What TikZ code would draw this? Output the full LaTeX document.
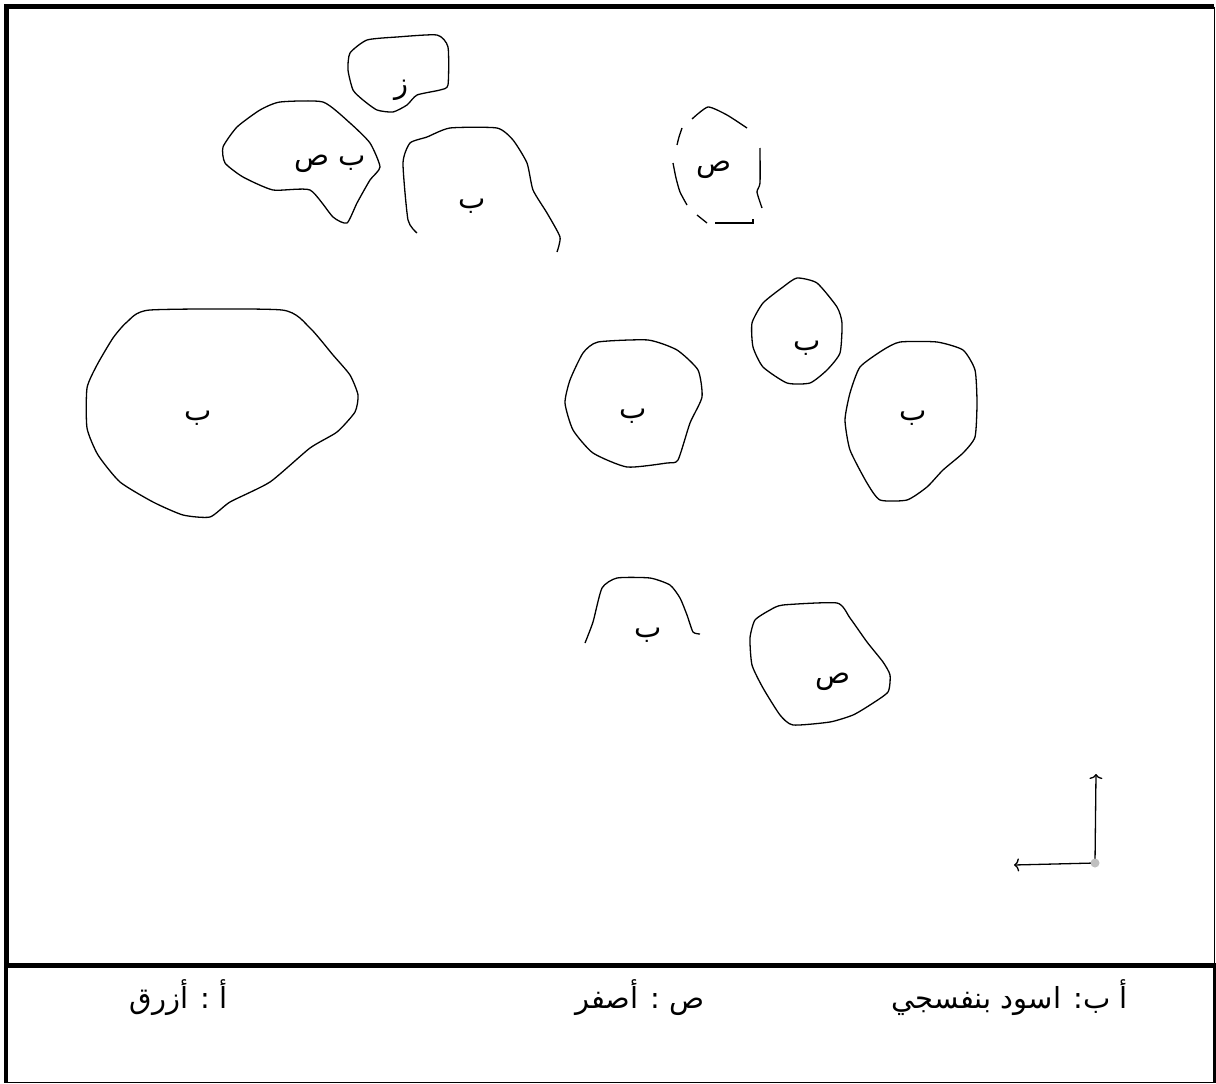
\documentclass[tikz,border=0pt]{standalone}
\usepackage{fontspec}
\usetikzlibrary{arrows.meta}
\newfontfamily\arabicfont[Script=Arabic]{DejaVu Sans}
\TeXXeTstate=1
\tikzset{
  blob/.style={black, line width=1.3pt},
  axis/.style={line width=1.3pt, -{To[length=5pt, width=13pt]}},
  lbl/.style={font=\arabicfont\fontsize{29}{32}\selectfont, inner sep=0pt},
  legend/.style={font=\arabicfont\fontsize{29}{32}\selectfont, inner sep=0pt}
}
\begin{document}
\begin{tikzpicture}[x=1pt, y=-1pt]
    \useasboundingbox (0,0) rectangle (1216,1084);

      % Frame and legend bar
      \draw[line width=5pt] (6.5,965) -- (6.5,6.5) -- (1214,6.5);
      \draw[line width=1.2pt] (1214.5,6.5) -- (1214.5,965);
      \draw[line width=5pt] (4,965) -- (1216,965);
      \draw[line width=4pt] (6,965) -- (6,1082.5);
      \draw[line width=3pt] (1214.5,965) -- (1214.5,1082.5);
      \draw[line width=1.5pt] (4,1082.5) -- (1216,1082.5);

      % Blob Z
      \draw[blob] plot[smooth cycle, tension=0.35] coordinates {(350,53) (367,40) (397,37) (437,35) (448,47)
        (448,85) (440,90) (417,95) (407,105) (393,112) (377,110) (363,100) (353,90) (348,70)};
      \node[lbl] (z) at (401,90) {\beginR ز\endR};

      % Blob B-S
      \draw[blob] plot[smooth cycle, tension=0.35] coordinates {(223,147) (237,127) (260,110) (280,102) (323,102)
        (350,123) (370,143) (380,167) (370,180) (357,203) (347,223) (333,217) (310,190) (273,190) (243,177) (225,163)};
      \node[lbl] (bs) at (330,164) {\beginR ب ص\endR};

      % Blob B top (open)
      \draw[blob] plot[smooth, tension=0.35] coordinates {(417,233) (408,220) (403,163) (410,143) (427,137)
        (450,128) (497,128) (513,140) (527,163) (533,190) (547,213) (560,237) (557,252)};
      \node[lbl] (b1) at (472,206) {\beginR ب\endR};

      % Blob S top (broken outline)
      \draw[blob] plot[smooth, tension=0.35] coordinates {(692,119) (708,107) (727,115) (747,128)};
      \draw[blob] plot[smooth, tension=0.35] coordinates {(682,128) (679,137) (677,145)};
      \draw[blob] plot[smooth, tension=0.35] coordinates {(673,163) (676,178) (680,192) (687,205)};
      \draw[blob] plot[smooth, tension=0.35] coordinates {(697,215) (707,223)};
      \draw[blob] (715,223) -- (753,223) -- (753,219);
      \draw[blob] plot[smooth, tension=0.35] coordinates {(760,148) (760,183) (757,192) (762,208)};
      \node[lbl] (s1) at (714,170) {\beginR ص\endR};

      % Blob B big left
      \draw[blob] plot[smooth cycle, tension=0.35] coordinates {(150,310) (282,310) (310,328) (333,355) (350,375)
        (358,395) (355,412) (337,432) (310,448) (270,482) (230,502) (210,517) (183,515) (153,502) (120,482)
        (98,455) (87,428) (87,388) (97,365) (113,338) (127,322)};
      \node[lbl] (b2) at (198,418) {\beginR ب\endR};

      % Blob B middle
      \draw[blob] plot[smooth cycle, tension=0.35] coordinates {(565,403) (570,380) (583,353) (598,342) (648,340)
        (677,350) (698,370) (702,397) (690,423) (678,460) (667,463) (627,467) (593,453) (573,430)};
      \node[lbl] (b3) at (633,416) {\beginR ب\endR};

      % Blob B small
      \draw[blob] plot[smooth cycle, tension=0.35] coordinates {(797,278) (817,283) (837,307) (842,323) (840,353)
        (827,370) (810,383) (787,383) (763,367) (753,347) (752,323) (763,303) (783,287)};
      \node[lbl] (b4) at (807,348) {\beginR ب\endR};

      % Blob B right
      \draw[blob] plot[smooth cycle, tension=0.35] coordinates {(850,393) (860,367) (883,350) (900,342) (937,342)
        (963,350) (975,370) (977,403) (975,437) (963,453) (943,470) (927,487) (907,500) (880,500) (867,483)
        (850,450) (845,420)};
      \node[lbl] (b5) at (913,418) {\beginR ب\endR};

      % Blob B bottom (open)
      \draw[blob] plot[smooth, tension=0.35] coordinates {(585,643) (593,622) (602,588) (617,578) (650,578)
        (670,585) (680,598) (687,615) (693,632) (700,634)};
      \node[lbl] (b6) at (648,635) {\beginR ب\endR};

      % Blob S bottom
      \draw[blob] plot[smooth cycle, tension=0.35] coordinates {(755,620) (770,610) (783,605) (837,603) (850,618)
        (867,642) (883,662) (890,675) (888,692) (870,705) (853,715) (830,722) (793,725) (780,715) (763,688)
        (752,665) (750,638)};
      \node[lbl] (s2) at (833,682) {\beginR ص\endR};

      % Axes
      \coordinate (o) at (1095,863);
      \coordinate (up) at (1096,774);
      \coordinate (left) at (1014,865);
      \draw[axis] (o) -- (up);
      \draw[axis] (o) -- (left);
      \fill[gray!50] (o) circle (4.5);

      % Legend
      \node[legend, anchor=east] (l1) at (1128,998) {\beginR أ ب:  اسود بنفسجي\endR};
      \node[legend, anchor=east] (l2) at (705,998) {\beginR ص : أصفر\endR};
      \node[legend, anchor=east] (l3) at (228,998) {\beginR أ : أزرق\endR};
    \end{tikzpicture}
\end{document}
